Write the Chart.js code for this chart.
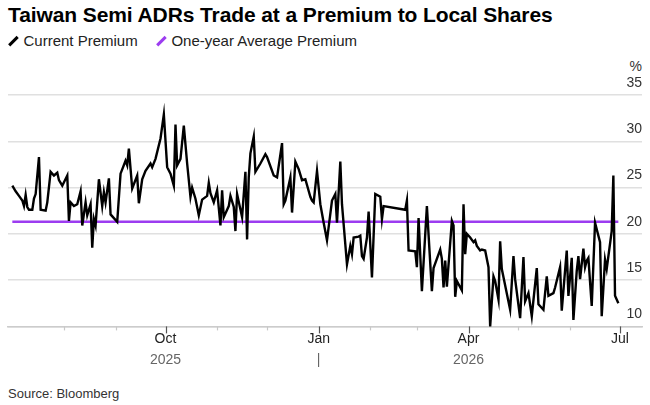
<!DOCTYPE html>
<html>
<head>
<meta charset="utf-8">
<script src="https://cdn.jsdelivr.net/npm/chart.js@4.4.1/dist/chart.umd.min.js"></script>
<style>
  body { margin: 0; width: 650px; height: 405px; background: #fff; font-family: "Liberation Sans", Arial, sans-serif; color: #222; position: relative; overflow: hidden; }
  #title { position: absolute; left: 8px; top: 3px; font-size: 21px; font-weight: bold; color: #000; letter-spacing: -0.1px; white-space: nowrap; }
  #legend { position: absolute; left: 8px; top: 32px; font-size: 15px; color: #222; white-space: nowrap; }
  .item { display: inline-flex; align-items: center; margin-right: 14px; }
  .mark { display: inline-block; width: 2.5px; height: 12px; transform: rotate(45deg); margin: 0 9px 0 4px; }
  #wrap { position: absolute; left: 0; top: 55px; width: 650px; height: 315px; }
  #pct { position: absolute; right: 8px; top: 58px; font-size: 14px; color: #333; }
  #source { position: absolute; left: 8px; top: 386px; font-size: 13px; color: #333; }
</style>
</head>
<body>
<div id="title">Taiwan Semi ADRs Trade at a Premium to Local Shares</div>
<div id="legend">
  <span class="item"><span class="mark" style="background:#000"></span>Current Premium</span>
  <span class="item"><span class="mark" style="background:#9c3cf0"></span>One-year Average Premium</span>
</div>
<div id="pct">%</div>
<div id="wrap"><canvas id="chart"></canvas></div>
<div id="source">Source: Bloomberg</div>
<script>
// days counted from 2025-07-01
const days = [0,2,4,6,7,8,9,10,12,13,14,16,17,20,21,23,25,27,28,30,33,34,35,37,39,41,42,44,45,47,48,49,50,52,54,55,56,58,59,63,
  65,68,69,70,72,75,76,78,80,83,84,86,89,91,93,95,97,98,99,101,103,105,107,108,110,112,114,117,118,119,121,123,125,126,127,130,
  131,133,134,135,138,140,141,142,143,145,146,149,152,153,157,159,162,163,164,167,168,170,172,174,176,179,180,181,183,185,187,189,
  192,194,195,197,198,201,203,204,205,208,209,210,211,213,214,216,218,221,222,223,236,237,238,242,243,244,246,249,252,253,257,258,
  259,260,261,264,265,266,267,270,271,272,273,275,277,278,279,281,282,284,286,287,289,290,292,293,294,299,301,302,305,307,308,310,
  312,315,316,319,321,322,325,326,329,330,333,334,336,337,339,340,341,343,344,345,346,348,350,353,354,356,357,360,361,362,364];
const premium = [25.2,24.6,24.1,23.6,23.0,24.2,22.9,22.6,22.6,23.8,24.3,28.3,22.6,22.5,23.4,26.7,26.3,26.6,25.8,25.2,26.3,21.4,23.4,23.0,23.2,24.6,20.9,23.4,22.0,23.2,18.5,21.6,20.9,25.9,23.0,24.5,23.4,26.0,22.1,21.3,
  26.5,27.9,27.4,29.2,24.9,26.3,23.3,25.9,26.8,27.6,27.2,28.1,30.3,32.9,27.2,26.5,25.2,31.8,27.4,28.1,31.7,27.6,24.0,25.0,23.8,22.0,23.7,24.1,25.5,24.4,23.4,24.7,20.9,24.7,21.8,23.0,
  24.1,22.9,20.3,24.3,21.8,26.7,19.4,26.1,28.7,30.5,26.7,27.6,28.6,28.3,26.3,26.1,29.8,23.2,23.6,26.1,22.3,27.8,27.0,25.8,25.9,24.0,23.6,23.4,26.8,23.2,21.2,19.3,
  23.6,24.3,21.2,27.8,23.2,16.7,18.7,17.8,19.6,19.7,19.8,17.6,17.3,19.6,22.4,15.3,24.3,24.0,21.6,23.0,22.6,23.6,18.2,18.1,16.4,21.7,13.8,23.0,13.8,16.3,18.3,17.3,
  14.2,17.1,14.3,21.4,20.9,13.2,14.9,13.9,23.2,17.8,20.0,19.6,19.1,19.3,18.7,18.2,18.3,18.2,16.4,10.0,15.4,14.9,12.9,19.2,16.2,11.8,17.6,15.1,10.9,17.5,12.7,13.6,
  11.1,16.3,12.4,11.8,15.4,13.3,13.6,14.2,16.4,11.7,18.2,13.3,17.4,10.7,16.0,17.6,15.1,18.4,16.4,17.1,17.4,12.2,21.2,19.1,11.1,17.2,16.2,20.3,26.3,13.3,12.5];
const avgPremium = 21.3;

const monthStarts = [31, 62, 92, 123, 153, 184, 215, 243, 274, 304, 335, 365];
const monthLabels = { 92: 'Oct', 184: 'Jan', 274: 'Apr', 365: 'Jul' };
const yearTicks = [92, 184, 274];
const yearLabels = ['2025', '|', '2026'];

const xMin = -2.6, xMax = 378.2;

// month tick marks below the axis, longer ones at quarter labels
const monthTickMarks = {
  id: 'monthTickMarks',
  afterDraw(chart) {
    const ctx = chart.ctx;
    const sx = chart.scales.x;
    const bottom = chart.chartArea.bottom;
    ctx.save();
    ctx.lineWidth = 1.2;
    sx.ticks.forEach(t => {
      const px = Math.round(sx.getPixelForValue(t.value)) + 0.5;
      const major = !!monthLabels[t.value];
      ctx.strokeStyle = major ? '#555' : '#c8c8c8';
      ctx.beginPath();
      ctx.moveTo(px, bottom);
      ctx.lineTo(px, bottom + (major ? 7 : 4));
      ctx.stroke();
    });
    ctx.restore();
  }
};

new Chart(document.getElementById('chart'), {
  type: 'line',
  data: {
    datasets: [{
      label: 'Current Premium',
      data: days.map((d, i) => ({ x: d, y: premium[i] })),
      borderColor: '#000',
      borderWidth: 2.4,
      pointRadius: 0,
      tension: 0,
      clip: 4,
      order: 0
    }, {
      label: 'One-year Average Premium',
      data: [{ x: days[0], y: avgPremium }, { x: days[days.length - 1], y: avgPremium }],
      borderColor: '#9c3cf0',
      borderWidth: 2.5,
      pointRadius: 0,
      order: 1
    }]
  },
  options: {
    responsive: true,
    maintainAspectRatio: false,
    animation: false,
    layout: { padding: { left: 8, right: 8, top: 40, bottom: 0 } },
    plugins: { legend: { display: false }, tooltip: { enabled: false } },
    scales: {
      x: {
        type: 'linear',
        min: xMin,
        max: xMax,
        afterBuildTicks: (axis) => { axis.ticks = monthStarts.map(v => ({ value: v })); },
        ticks: {
          autoSkip: false,
          maxRotation: 0,
          padding: 4,
          color: '#222',
          font: { family: 'Liberation Sans', size: 14 },
          callback: (v) => monthLabels[v] || ''
        },
        grid: { display: false, drawTicks: false },
        border: { color: '#ccc', width: 1.5 }
      },
      x2: {
        type: 'linear',
        position: 'bottom',
        min: xMin,
        max: xMax,
        afterBuildTicks: (axis) => { axis.ticks = yearTicks.map(v => ({ value: v })); },
        ticks: {
          autoSkip: false,
          maxRotation: 0,
          padding: 1,
          color: '#666',
          font: { family: 'Liberation Sans', size: 14 },
          callback: (v) => yearLabels[yearTicks.indexOf(v)]
        },
        grid: { display: false, drawTicks: false },
        border: { display: false }
      },
      y: {
        position: 'right',
        min: 10,
        max: 35,
        ticks: {
          stepSize: 5,
          mirror: true,
          padding: 0,
          labelOffset: -12,
          color: '#333',
          font: { family: 'Liberation Sans', size: 14 }
        },
        grid: { color: '#e0e0e0', lineWidth: 1.5, drawTicks: false },
        border: { display: false }
      }
    }
  },
  plugins: [monthTickMarks]
});
</script>
</body>
</html>
